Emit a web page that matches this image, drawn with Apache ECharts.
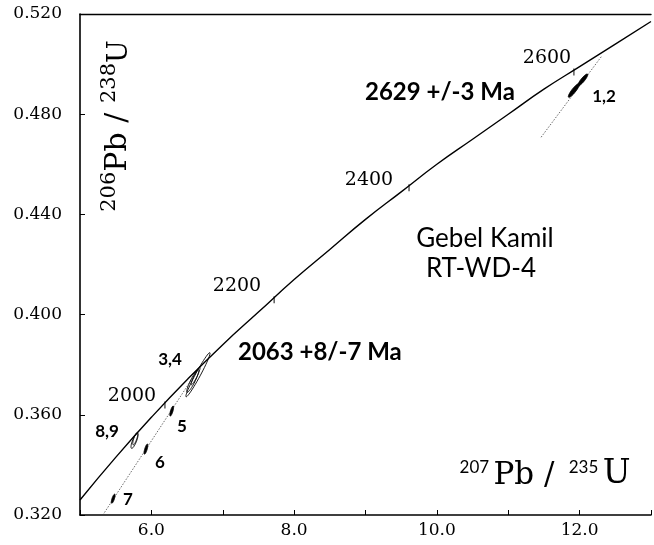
<!DOCTYPE html>
<html><head><meta charset="utf-8">
<script src="https://cdn.jsdelivr.net/npm/echarts@6/dist/echarts.min.js"></script>
<style>html,body{margin:0;padding:0;background:#fff}#c{width:654px;height:545px}</style>
</head><body><div id="c"></div>
<script>
// Concordia curve
const concordiaX = [5.0, 5.5, 6.0, 6.5, 7.0, 7.5, 8.0, 8.5, 9.0, 9.5, 10.0, 10.5, 11.0, 11.5, 12.0, 12.5, 13.0];
const concordiaY = [0.326, 0.343, 0.359, 0.374, 0.388, 0.401, 0.414, 0.426, 0.438, 0.449, 0.460, 0.470, 0.480, 0.490, 0.499, 0.508, 0.517];
// Age marks on concordia (Ma)
const ageLabels = ['2000', '2200', '2400', '2600'];
const ageX = [6.19, 7.72, 9.61, 11.92];
const ageY = [0.3647, 0.4067, 0.4514, 0.4976];
// Discordia lines
const discUpperX = [11.46, 12.31];
const discUpperY = [0.4708, 0.5032];
const discLowerX = [5.32, 6.63];
const discLowerY = [0.320, 0.377];
// Error ellipses: centre and half major axis (data units)
const ellipseName = ['1', '2', '3', '4', '4b', '8', '9', '5', '6', '7'];
const ellipseX  = [11.92, 12.045, 6.653, 6.58, 6.62, 5.764, 5.775, 6.285, 5.924, 5.465];
const ellipseY  = [0.4895, 0.4937, 0.376, 0.3735, 0.3755, 0.3496, 0.3505, 0.3615, 0.3463, 0.3265];
const ellipseDX = [0.075, 0.066, 0.1667, 0.08, 0.06, 0.042, 0.03, 0.021, 0.021, 0.021];
const ellipseDY = [0.0027, 0.0023, 0.0088, 0.0045, 0.0035, 0.003, 0.0025, 0.002, 0.002, 0.0018];
// Axis tick labels
const xTickLabels = ['6.0', '8.0', '10.0', '12.0'];
const yTickLabels = ['0.320', '0.360', '0.400', '0.440', '0.480', '0.520'];

// styles (not data)
const ellipseHalfWidthPx = [2.0, 1.8, 2.4, 2.2, 1.5, 2.0, 1.5, 1.2, 1.2, 1.2];
const ellipseFilled = [true, true, false, false, false, false, false, true, true, true];

const chart = echarts.init(document.getElementById('c'), null, {renderer: 'canvas'});
const serif = 'DejaVu Serif';
const sans = 'Lato';

function ellipseRender(params, api) {
  const i = params.dataIndex;
  const cx = api.value(0), cy = api.value(1), dx = api.value(2), dy = api.value(3);
  const c = api.coord([cx, cy]);
  const p = api.coord([cx + dx, cy + dy]);
  const vx = p[0] - c[0], vy = p[1] - c[1];
  const a = Math.sqrt(vx * vx + vy * vy);
  const th = Math.atan2(vy, vx);
  const b = ellipseHalfWidthPx[i];
  const pts = [];
  for (let k = 0; k < 48; k++) {
    const t = k / 48 * Math.PI * 2;
    pts.push([
      c[0] + a * Math.cos(t) * Math.cos(th) - b * Math.sin(t) * Math.sin(th),
      c[1] + a * Math.cos(t) * Math.sin(th) + b * Math.sin(t) * Math.cos(th)
    ]);
  }
  return {
    type: 'polygon',
    shape: {points: pts},
    style: {fill: ellipseFilled[i] ? '#000' : 'rgba(0,0,0,0)', stroke: '#000', lineWidth: 0.9}
  };
}

const txt = (text, x, y, font, size, weight, align) => ({
  type: 'text', x: x, y: y,
  style: {text: text, fontFamily: font, fontSize: size, fontWeight: weight || 'normal',
    fill: '#000', align: align || 'center', verticalAlign: 'middle'}
});

const option = {
  backgroundColor: '#fff',
  animation: false,
  grid: {left: 80, right: -2, top: 14, bottom: 30},
  xAxis: [{
    type: 'value', min: 5, max: 13, interval: 1,
    axisLine: {show: true, lineStyle: {color: '#000', width: 1.6}},
    axisTick: {show: true, inside: true, length: 5, lineStyle: {color: '#000', width: 1}},
    axisLabel: {
      color: '#000', fontFamily: serif, fontSize: 17, margin: 7,
      formatter: v => { const s = v.toFixed(1); return xTickLabels.indexOf(s) >= 0 ? s : ''; }
    },
    splitLine: {show: false}
  }, {
    type: 'value', min: 5, max: 13, position: 'top',
    axisLine: {show: true, onZero: false, lineStyle: {color: '#000', width: 1.4}},
    axisTick: {show: false}, axisLabel: {show: false}, splitLine: {show: false}
  }],
  yAxis: {
    type: 'value', min: 0.32, max: 0.52, interval: 0.04,
    axisLine: {show: true, lineStyle: {color: '#000', width: 1.6}},
    axisTick: {show: true, inside: true, length: 5, lineStyle: {color: '#000', width: 1}},
    axisLabel: {
      color: '#000', fontFamily: serif, fontSize: 17, margin: 18, padding: [4, 0, 0, 0],
      formatter: v => { const s = v.toFixed(3); return yTickLabels.indexOf(s) >= 0 ? s : ''; }
    },
    splitLine: {show: false}
  },
  series: [
    {
      type: 'line', name: 'concordia', smooth: true, showSymbol: false,
      data: concordiaX.map((x, i) => [x, concordiaY[i]]),
      lineStyle: {color: '#000', width: 1.4}, z: 3
    },
    {
      type: 'line', name: 'discordia 2629', showSymbol: false,
      data: discUpperX.map((x, i) => [x, discUpperY[i]]),
      lineStyle: {color: '#444', width: 0.8, type: [1.5, 1.5]}, z: 2
    },
    {
      type: 'line', name: 'discordia 2063', showSymbol: false,
      data: discLowerX.map((x, i) => [x, discLowerY[i]]),
      lineStyle: {color: '#444', width: 0.8, type: [1.5, 1.5]}, z: 2
    },
    {
      type: 'scatter', name: 'ages', symbol: 'rect', symbolSize: [1.2, 7], symbolOffset: [0, 2],
      data: ageX.map((x, i) => [x, ageY[i]]),
      itemStyle: {color: '#000'}, z: 4
    },
    {
      type: 'custom', name: 'ellipses', renderItem: ellipseRender, clip: true,
      data: ellipseX.map((x, i) => [x, ellipseY[i], ellipseDX[i], ellipseDY[i]]),
      encode: {x: 0, y: 1}, z: 5
    }
  ],
  graphic: [
    {
      type: 'text', x: 116, y: 126, rotation: Math.PI / 2,
      style: {
        text: '{s|206}{b|Pb / }{s|238}{u|U}',
        align: 'center', verticalAlign: 'middle', fill: '#000',
        rich: {
          s: {fontFamily: serif, fontSize: 21, lineHeight: 34, verticalAlign: 'top', fill: '#000'},
          b: {fontFamily: serif, fontSize: 30, lineHeight: 34, verticalAlign: 'bottom', fill: '#000'},
          u: {fontFamily: serif, fontSize: 27, lineHeight: 34, verticalAlign: 'bottom', fill: '#000'}
        }
      }
    },
    {
      type: 'text', x: 545, y: 475,
      style: {
        text: '{s|207 }{b|Pb / }{s| 235 }{u|U}',
        align: 'center', verticalAlign: 'middle', fill: '#000',
        rich: {
          s: {fontFamily: sans, fontSize: 17, lineHeight: 32, verticalAlign: 'top', fill: '#000'},
          b: {fontFamily: serif, fontSize: 31, lineHeight: 32, verticalAlign: 'bottom', fill: '#000'},
          u: {fontFamily: serif, fontSize: 33, lineHeight: 32, verticalAlign: 'bottom', fill: '#000'}
        }
      }
    },
    txt('2629 +/-3 Ma', 365, 92, sans, 24, 'bold', 'left'),
    txt('2063 +8/-7 Ma', 238, 352, sans, 24, 'bold', 'left'),
    txt('Gebel Kamil', 485, 239, sans, 26, 'normal'),
    txt('RT-WD-4', 481, 269, sans, 26, 'normal'),
    txt(ageLabels[0], 132, 396, serif, 19),
    txt(ageLabels[1], 237, 286, serif, 19),
    txt(ageLabels[2], 369, 180, serif, 19),
    txt(ageLabels[3], 547, 58, serif, 19),
    txt('1,2', 604, 97, sans, 17, 'bold'),
    txt('3,4', 170, 360, sans, 17, 'bold'),
    txt('8,9', 107, 432, sans, 17, 'bold'),
    txt('5', 182, 427, sans, 17, 'bold'),
    txt('6', 160, 463, sans, 17, 'bold'),
    txt('7', 128, 500, sans, 17, 'bold')
  ]
};
chart.setOption(option);
</script>
</body></html>
